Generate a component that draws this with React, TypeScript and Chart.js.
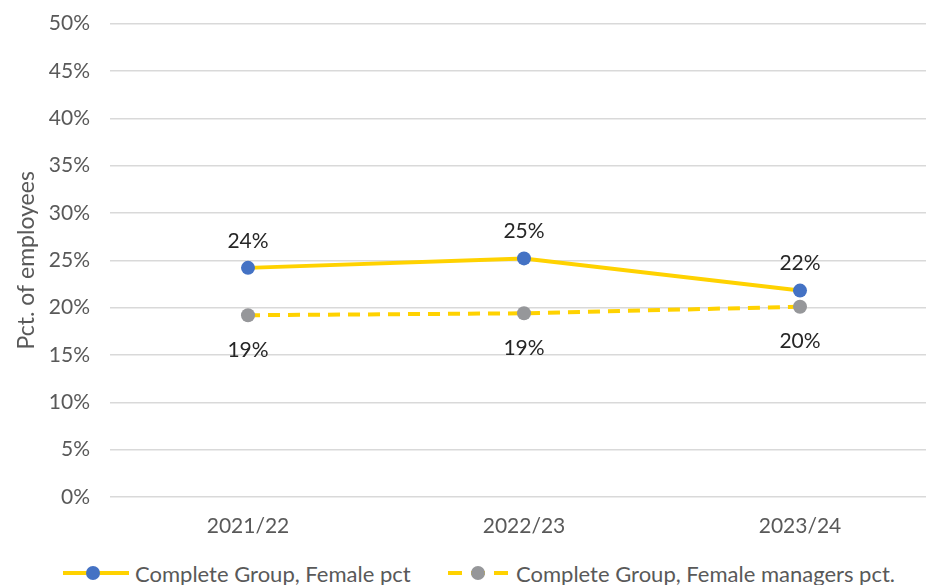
import React, { useEffect, useRef } from "react";
import { Chart, registerables } from "chart.js";

Chart.register(...registerables);

const categories = ["2021/22", "2022/23", "2023/24"];
const femalePct = [24.2, 25.2, 21.8];
const femaleManagersPct = [19.2, 19.4, 20.1];
const seriesNames = ["Complete Group, Female pct", "Complete Group, Female managers pct."];
const axisTitle = "Pct. of employees";

const YELLOW = "#FFD200";
const BLUE = "#4472C4";
const GRAY = "#96979A";
const TEXT = "#595959";
const LABEL = "#262626";
const FONT = "Lato, 'Open Sans', sans-serif";

const valueLabels = {
  id: "valueLabels",
  afterDatasetsDraw(chart: any) {
    const ctx = chart.ctx;
    ctx.save();
    ctx.font = `21px ${FONT}`;
    ctx.fillStyle = LABEL;
    ctx.textAlign = "center";
    ctx.textBaseline = "middle";
    chart.data.datasets.forEach((ds: any, i: number) => {
      const meta = chart.getDatasetMeta(i);
      meta.data.forEach((pt: any, j: number) => {
        const off = i === 0 ? -27 : 35;
        ctx.fillText(Math.round(ds.data[j]) + "%", pt.x, pt.y + off);
      });
    });
    ctx.restore();
  },
};

export default function App() {
  const ref = useRef<HTMLCanvasElement | null>(null);
  useEffect(() => {
    if (!ref.current) return;
    const chart = new Chart(ref.current, {
      type: "line",
      data: {
        labels: categories,
        datasets: [
          {
            label: seriesNames[0],
            data: femalePct,
            borderColor: YELLOW,
            borderWidth: 4,
            pointRadius: 7,
            pointBackgroundColor: BLUE,
            pointBorderColor: BLUE,
            pointBorderWidth: 0,
            tension: 0,
          },
          {
            label: seriesNames[1],
            data: femaleManagersPct,
            borderColor: YELLOW,
            borderWidth: 4,
            borderDash: [12, 8],
            pointRadius: 7,
            pointBackgroundColor: GRAY,
            pointBorderColor: GRAY,
            pointBorderWidth: 0,
            tension: 0,
          },
        ],
      },
      options: {
        responsive: false,
        maintainAspectRatio: false,
        animation: false,
        layout: { padding: { top: 14, right: 4, left: 0, bottom: 0 } },
        plugins: { legend: { display: false }, tooltip: { enabled: false } },
        scales: {
          x: {
            offset: true,
            grid: { display: false, drawTicks: false, offset: true },
            border: { display: false },
            ticks: { padding: 17, color: TEXT, font: { family: FONT, size: 21 } },
            afterFit: (s: any) => {
              s.height = 48;
            },
          },
          y: {
            min: 0,
            max: 50,
            ticks: {
              stepSize: 5,
              padding: 20,
              color: TEXT,
              font: { family: FONT, size: 21 },
              callback: (v: any) => v + "%",
            },
            grid: { color: "#D9D9D9", lineWidth: 1.5, drawTicks: false },
            border: { display: false },
            title: {
              display: true,
              text: axisTitle,
              color: TEXT,
              font: { family: FONT, size: 23 },
              padding: { top: 13, bottom: 0 },
            },
            afterFit: (s: any) => {
              s.width = 110;
            },
          },
        },
      },
      plugins: [valueLabels],
    });
    return () => chart.destroy();
  }, []);

  const legendText: React.CSSProperties = {
    fontFamily: FONT,
    fontSize: 22,
    color: TEXT,
    marginLeft: 6,
    whiteSpace: "nowrap",
  };

  return (
    <div
      style={{
        position: "fixed",
        left: 0,
        top: 0,
        width: 926,
        height: 585,
        overflow: "hidden",
        background: "#fff",
      }}
    >
      <canvas ref={ref} width={945} height={554} style={{ position: "absolute", left: 0, top: -9, width: 945, height: 554 }} />
      <div style={{ position: "absolute", left: 63, top: 560, display: "flex", alignItems: "center", height: 26 }}>
        <svg width={66} height={20}>
          <line x1={0} y1={10} x2={66} y2={10} stroke={YELLOW} strokeWidth={4} />
          <circle cx={30} cy={10} r={7} fill={BLUE} />
        </svg>
        <span style={legendText}>{seriesNames[0]}</span>
      </div>
      <div style={{ position: "absolute", left: 448, top: 560, display: "flex", alignItems: "center", height: 26 }}>
        <svg width={62} height={20}>
          <line x1={0} y1={10} x2={62} y2={10} stroke={YELLOW} strokeWidth={4} strokeDasharray="14 9" strokeDashoffset={0} />
          <circle cx={30} cy={10} r={7} fill={GRAY} />
        </svg>
        <span style={legendText}>{seriesNames[1]}</span>
      </div>
    </div>
  );
}
